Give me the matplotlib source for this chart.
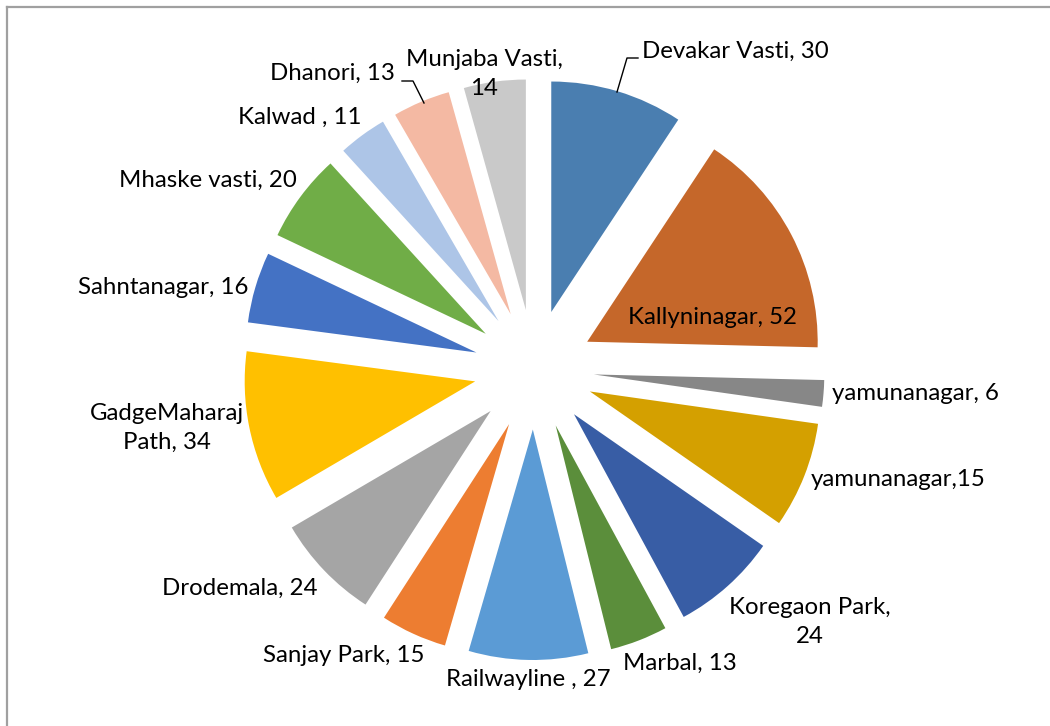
import matplotlib
matplotlib.use("Agg")
import matplotlib.pyplot as plt
from matplotlib.lines import Line2D

# ---- data ----
categories = ["Devakar Vasti", "Kallyninagar", "yamunanagar", "yamunanagar",
              "Koregaon Park", "Marbal", "Railwayline ", "Sanjay Park",
              "Drodemala", "GadgeMaharaj Path", "Sahntanagar", "Mhaske vasti",
              "Kalwad ", "Dhanori", "Munjaba Vasti"]
# slice sizes as drawn in the reference (the 4th slice is drawn as 24
# although its label text reads 15)
values = [30, 52, 6, 24, 24, 13, 27, 15, 24, 34, 16, 20, 11, 13, 14]
label_texts = ["Devakar Vasti, 30", "Kallyninagar, 52", "yamunanagar, 6",
               "yamunanagar,15", "Koregaon Park,\n24", "Marbal, 13",
               "Railwayline , 27", "Sanjay Park, 15", "Drodemala, 24",
               "GadgeMaharaj\nPath, 34", "Sahntanagar, 16", "Mhaske vasti, 20",
               "Kalwad , 11", "Dhanori, 13", "Munjaba Vasti,\n14"]

# ---- styles / layout ----
colors = ["#4A7EB0", "#C5672A", "#878787", "#D4A000", "#385DA5", "#5B8E3B",
          "#5B9BD5", "#ED7D31", "#A5A5A5", "#FFC000", "#4472C4", "#70AD47",
          "#ADC5E7", "#F4B9A3", "#C9C9C9"]
W, H = 1050, 726
label_pos = [(735, 51), (713, 318), (915, 394), (898, 480), (810, 622),
             (680, 663), (528, 680), (344, 655), (240, 588), (167, 428),
             (163, 287), (208, 180), (300, 117), (332, 73), (484, 74)]

plt.rcParams['font.family'] = ['Lato', 'DejaVu Sans']

fig = plt.figure(figsize=(W / 100, H / 100), dpi=100)
ax = fig.add_axes([0, 0, 1, 1])

cx, cy, R, expl = 534, H - 369.5, 230.5, 60
ax.pie(values, colors=colors, startangle=90, counterclock=False,
       center=(cx, cy), radius=R, explode=[expl] * len(values),
       wedgeprops=dict(linewidth=0), frame=False)
ax.set_xlim(0, W)
ax.set_ylim(0, H)
ax.set_aspect('equal')
ax.axis('off')

for txt, (x, y) in zip(label_texts, label_pos):
    ax.text(x, H - y, txt, ha='center', va='center', fontsize=17.3,
            color='#000000', linespacing=1.42, multialignment='center')

# leader lines
ax.plot([617, 627, 638], [H - 92, H - 58, H - 58], color='black', lw=1.0)
ax.plot([402, 413, 424], [H - 81, H - 81, H - 103], color='black', lw=1.0)

# chart frame
fig.add_artist(Line2D([7 / W, 1.0], [1 - 6.5 / H, 1 - 6.5 / H],
                      transform=fig.transFigure, color='#A0A0A0', lw=1.6))
fig.add_artist(Line2D([7 / W, 7 / W], [0, 1 - 6.5 / H],
                      transform=fig.transFigure, color='#A0A0A0', lw=1.6))

fig.savefig("out.png", dpi=100, facecolor='white')
